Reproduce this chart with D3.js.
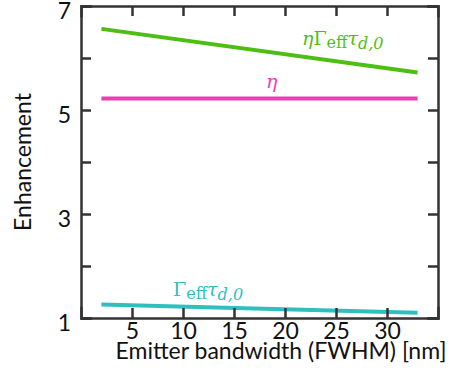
<!DOCTYPE html>
<html>
<head>
<meta charset="utf-8">
<script src="https://cdn.jsdelivr.net/npm/d3@7"></script>
<style>
  body { margin: 0; background: #fff; }
  text { font-family: Lato, "Open Sans", sans-serif; }
</style>
</head>
<body>
<div id="chart"></div>
<script>
// bandwidth samples (nm) and the three curves
const bandwidth = [2, 33];
const productVals = [6.56, 5.72];   // eta * Gamma_eff * tau_d0
const etaVals = [5.22, 5.22];       // eta
const gammaVals = [1.26, 1.10];     // Gamma_eff * tau_d0

const xTicks = [5, 10, 15, 20, 25, 30];
const yTicks = [1, 2, 3, 4, 5, 6, 7];
const yLabelled = [1, 3, 5, 7];

const width = 452, height = 377;
const margin = { left: 81, right: 14, top: 6, bottom: 59 };

const svg = d3.select('#chart').append('svg')
  .attr('width', width)
  .attr('height', height);

const x = d3.scaleLinear().domain([0, 35]).range([margin.left, width - margin.right]);
const y = d3.scaleLinear().domain([1, 7]).range([height - margin.bottom, margin.top]);

const axisColor = '#333';

// series
const series = [
  { vals: productVals, color: '#4dbf12' },
  { vals: etaVals, color: '#e840b4' },
  { vals: gammaVals, color: '#2ebfbf' }
];
const line = d3.line().x(d => x(d[0])).y(d => y(d[1]));
series.forEach(s => {
  svg.append('path')
    .datum(bandwidth.map((b, i) => [b, s.vals[i]]))
    .attr('d', line)
    .attr('fill', 'none')
    .attr('stroke', s.color)
    .attr('stroke-width', 4);
});

// axes (ticks point inwards, mirrored on top/right)
const axBottom = d3.axisBottom(x).tickValues(xTicks).tickSize(-10).tickPadding(5);
const axTop = d3.axisTop(x).tickValues(xTicks).tickSize(-10).tickFormat('');
const axLeft = d3.axisLeft(y).tickValues(yTicks).tickSize(-10).tickPadding(10)
  .tickFormat(d => yLabelled.includes(d) ? d : '');
const axRight = d3.axisRight(y).tickValues(yTicks).tickSize(-10).tickFormat('');

function styleAxis(g) {
  g.select('.domain').attr('stroke', axisColor).attr('stroke-width', 2.5);
  g.selectAll('.tick line').attr('stroke', axisColor).attr('stroke-width', 2.5);
  g.selectAll('.tick text').attr('fill', '#111').style('font-size', '23px');
}

svg.append('g').attr('transform', `translate(0,${y(1)})`).call(axBottom).call(styleAxis);
svg.append('g').attr('transform', `translate(0,${y(7)})`).call(axTop).call(styleAxis);
svg.append('g').attr('transform', `translate(${x(0)},0)`).call(axLeft).call(styleAxis)
  .selectAll('.tick text').attr('y', 5);
svg.append('g').attr('transform', `translate(${x(35)},0)`).call(axRight).call(styleAxis);
svg.selectAll('.domain').attr('stroke-linecap', 'square');

// axis titles
svg.append('text')
  .attr('x', 281).attr('y', 359)
  .attr('text-anchor', 'middle')
  .style('font-size', '23px')
  .attr('fill', '#111')
  .text('Emitter bandwidth (FWHM) [nm]');

svg.append('text')
  .attr('transform', `translate(31,${162}) rotate(-90)`)
  .attr('text-anchor', 'middle')
  .style('font-size', '23px')
  .attr('fill', '#111')
  .text('Enhancement');

// series labels with math-like typesetting
function mathLabel(px, py, color, parts) {
  const t = svg.append('text')
    .attr('x', px).attr('y', py)
    .attr('fill', color)
    .style('font-family', '"DejaVu Serif", "Liberation Serif", serif');
  parts.forEach(p => {
    const ts = t.append('tspan').text(p.t)
      .style('font-size', p.sub ? '16px' : '19px')
      .style('font-style', p.it ? 'italic' : 'normal');
    if (p.dy) ts.attr('dy', p.dy);
  });
}

mathLabel(302, 45, '#4dbf12', [
  { t: 'η', it: true },
  { t: 'Γ' },
  { t: 'eff', sub: true, dy: 3 },
  { t: 'τ', it: true, dy: -3 },
  { t: 'd,0', sub: true, it: true, dy: 4 }
]);

mathLabel(266, 88, '#e840b4', [
  { t: 'η', it: true }
]);

mathLabel(173, 296, '#2ebfbf', [
  { t: 'Γ' },
  { t: 'eff', sub: true, dy: 3 },
  { t: 'τ', it: true, dy: -3 },
  { t: 'd,0', sub: true, it: true, dy: 4 }
]);
</script>
</body>
</html>
